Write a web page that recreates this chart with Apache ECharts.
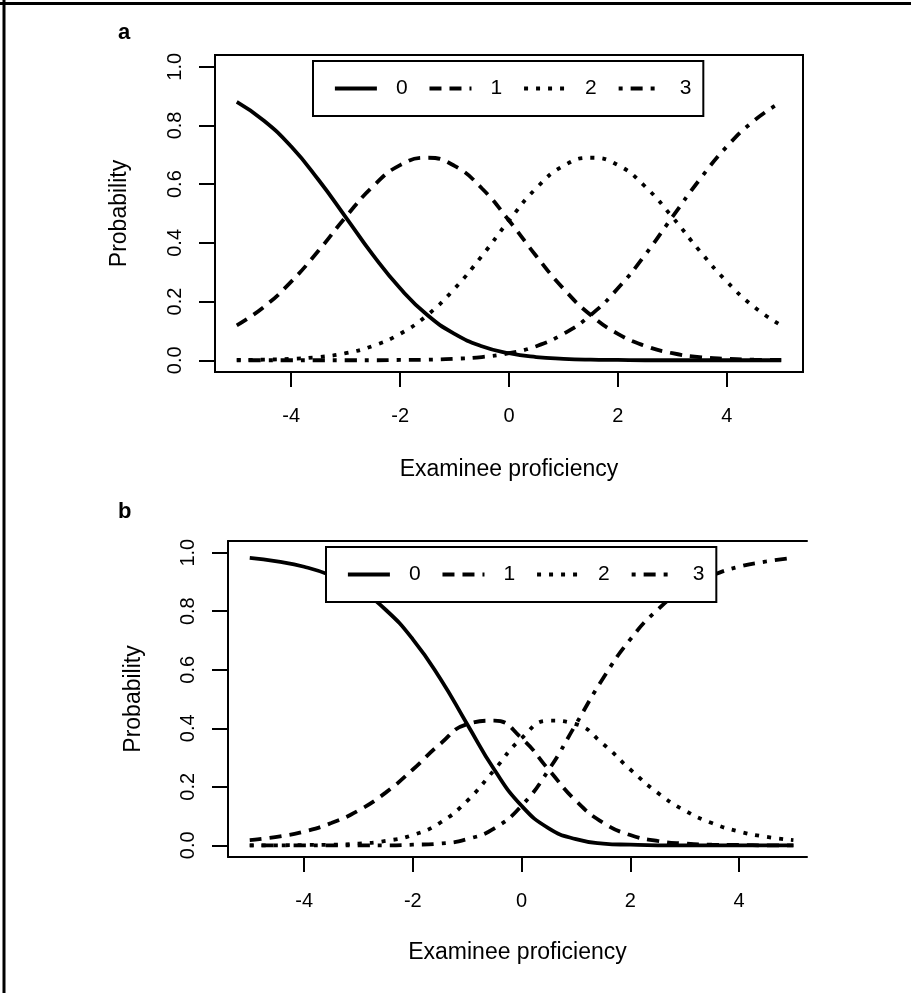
<!DOCTYPE html>
<html><head><meta charset="utf-8">
<script src="https://cdn.jsdelivr.net/npm/echarts@6/dist/echarts.min.js"></script>
<style>html,body{margin:0;padding:0;background:#fff}#c{width:911px;height:993px}</style>
</head><body><div id="c"></div>
<script>
// Examinee proficiency (theta) sample points
const theta = [-5,-4.5,-4,-3.5,-3,-2.5,-2,-1.5,-1,-0.5,0,0.5,1,1.5,2,2.5,3,3.5,4,4.5,5];
const categories = ['0','1','2','3'];
const xTicks = [-4,-2,0,2,4];
const yTicks = [0,0.2,0.4,0.6,0.8,1.0];

// Panel a: category probabilities
const a_p0 = [0.880,0.816,0.728,0.615,0.488,0.359,0.245,0.154,0.090,0.048,0.024,0.011,0.005,0.002,0.001,0.000,0.000,0,0,0,0];
const a_p1 = [0.119,0.182,0.268,0.373,0.488,0.592,0.665,0.690,0.662,0.586,0.476,0.355,0.244,0.154,0.090,0.049,0.024,0.011,0.005,0.002,0.001];
const a_p2 = [0.001,0.002,0.005,0.011,0.024,0.049,0.090,0.154,0.244,0.355,0.476,0.586,0.662,0.690,0.665,0.592,0.488,0.373,0.268,0.182,0.119];
const a_p3 = [0,0,0,0,0.000,0.000,0.001,0.002,0.005,0.011,0.024,0.048,0.090,0.154,0.245,0.359,0.488,0.615,0.728,0.816,0.880];

// Panel b: category probabilities
const b_p0 = [0.982,0.970,0.952,0.922,0.876,0.805,0.704,0.571,0.414,0.258,0.135,0.058,0.021,0.006,0.002,0.000,0,0,0,0,0];
const b_p1 = [0.018,0.029,0.047,0.076,0.119,0.180,0.259,0.346,0.414,0.426,0.366,0.258,0.152,0.077,0.035,0.015,0.006,0.002,0.001,0.000,0.000];
const b_p2 = [0.000,0.000,0.001,0.002,0.006,0.015,0.035,0.077,0.152,0.258,0.366,0.426,0.414,0.346,0.259,0.180,0.119,0.076,0.047,0.029,0.018];
const b_p3 = [0,0,0,0,0,0.000,0.002,0.006,0.021,0.058,0.135,0.258,0.414,0.571,0.704,0.805,0.876,0.922,0.952,0.970,0.982];

const font = '"Liberation Sans", Arial, Helvetica, sans-serif';
const dash = {'0':'solid','1':[12,8],'2':[4,8],'3':[4,8,12,8]};

function mkSeries(gi, arrs){
  return arrs.map((arr,k)=>({
    name: categories[k], type:'line', xAxisIndex: gi, yAxisIndex: gi,
    data: theta.map((t,i)=>[t, arr[i]]),
    smooth: true, symbol:'none', showSymbol:false,
    lineStyle:{color:'#000', width:3.8, type: dash[categories[k]]},
    itemStyle:{color:'#000'}, z:2
  }));
}

function xAxisFor(gi, max, nameGap, margin){
  return {type:'value', gridIndex:gi, min:-5.4, max:max, position:'bottom',
    axisLine:{show:true, onZero:false, lineStyle:{color:'#000', width:2}},
    axisTick:{show:true, inside:false, length:15, lineStyle:{color:'#000', width:2}, customValues:xTicks},
    axisLabel:{customValues:xTicks, margin:margin, color:'#000', fontSize:20, fontFamily:font},
    splitLine:{show:false},
    name:'Examinee proficiency', nameLocation:'middle', nameGap:nameGap,
    nameTextStyle:{color:'#000', fontSize:23, fontFamily:font}};
}
function yAxisFor(gi, nameGap, margin){
  return {type:'value', gridIndex:gi, min:-0.04, max:1.04, position:'left',
    axisLine:{show:true, onZero:false, lineStyle:{color:'#000', width:2}},
    axisTick:{show:true, inside:false, length:16, lineStyle:{color:'#000', width:2}, customValues:yTicks},
    axisLabel:{customValues:yTicks, rotate:90, margin:margin, color:'#000', fontSize:20, fontFamily:font,
      formatter:v=>Number(v).toFixed(1)},
    splitLine:{show:false},
    name:'Probability', nameLocation:'middle', nameGap:nameGap,
    nameTextStyle:{color:'#000', fontSize:23, fontFamily:font}};
}
function legendFor(left, top){
  return {data:categories, left:left, top:top, orient:'horizontal', selectedMode:false,
    padding:[17,12,17,20], itemWidth:42, itemHeight:20, itemGap:20,
    borderColor:'#000', borderWidth:2, backgroundColor:'#fff', z:5,
    itemStyle:{opacity:0, color:'rgba(0,0,0,0)', borderWidth:0},
    lineStyle:{width:3.8},
    textStyle:{fontSize:21, color:'#000', fontFamily:font, padding:[0,0,0,14]}};
}

const chart = echarts.init(document.getElementById('c'));
chart.setOption({
  animation:false,
  backgroundColor:'#fff',
  title:[
    {text:'a', left:118, top:22, padding:0, textStyle:{fontSize:22, fontWeight:'bold', color:'#000', fontFamily:font}},
    {text:'b', left:118, top:501, padding:0, textStyle:{fontSize:22, fontWeight:'bold', color:'#000', fontFamily:font}}
  ],
  grid:[
    {left:215, top:55, width:588, height:317, show:true, borderColor:'#000', borderWidth:2, backgroundColor:'transparent'},
    {left:228, top:541, width:579, height:316, show:false}
  ],
  xAxis:[
    xAxisFor(0, 5.4, 86, 34),
    xAxisFor(1, 5.25, 84, 34),
    {type:'value', gridIndex:1, min:-5.4, max:5.25, position:'top',
     axisLine:{show:true, onZero:false, lineStyle:{color:'#000', width:2}},
     axisTick:{show:false}, axisLabel:{show:false}, splitLine:{show:false}}
  ],
  yAxis:[ yAxisFor(0, 84, 30), yAxisFor(1, 83, 30) ],
  legend:[ legendFor(313, 61), legendFor(326, 547) ],
  graphic:[
    {type:'line', shape:{x1:0, y1:3.5, x2:911, y2:3.5}, style:{stroke:'#000', lineWidth:3}},
    {type:'line', shape:{x1:4, y1:0, x2:4, y2:993}, style:{stroke:'#000', lineWidth:3}}
  ],
  series: mkSeries(0,[a_p0,a_p1,a_p2,a_p3]).concat(mkSeries(1,[b_p0,b_p1,b_p2,b_p3]))
});
</script>
</body></html>
